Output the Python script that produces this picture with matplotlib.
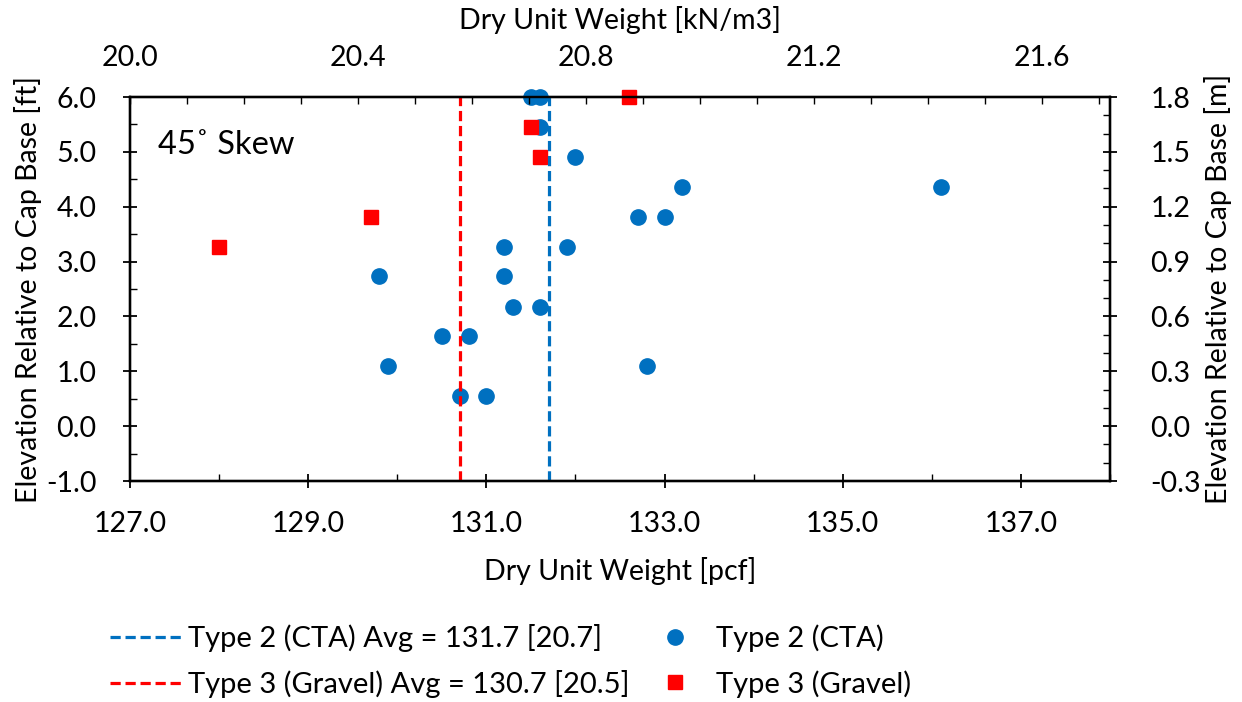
import matplotlib
matplotlib.use('Agg')
import matplotlib.pyplot as plt
from matplotlib.ticker import MultipleLocator, FormatStrFormatter

plt.rcParams['font.family'] = ['Lato', 'DejaVu Sans']

# Type 2 (CTA) samples: dry unit weight [pcf] vs elevation [ft]
cta_weight = [131.5, 131.6, 131.6, 132.0, 133.2, 136.1, 132.7, 133.0, 131.2, 131.9,
              129.8, 131.2, 131.3, 131.6, 130.5, 130.8, 129.9, 132.8, 130.7, 131.0]
cta_elev = [6.00, 6.00, 5.46, 4.91, 4.36, 4.36, 3.82, 3.82, 3.27, 3.27,
            2.73, 2.73, 2.18, 2.18, 1.64, 1.64, 1.09, 1.09, 0.55, 0.55]

# Type 3 (Gravel) samples
gravel_weight = [132.6, 131.5, 131.6, 129.7, 128.0]
gravel_elev = [6.00, 5.46, 4.91, 3.82, 3.27]

cta_avg = 131.7
gravel_avg = 130.7
cta_avg_label = 'Type 2 (CTA) Avg = 131.7 [20.7]'
gravel_avg_label = 'Type 3 (Gravel) Avg = 130.7 [20.5]'

blue = '#0070C0'
red = '#FF0000'
fs = 20.5

fig = plt.figure(figsize=(12.42, 7.02), dpi=100)
ax = fig.add_axes([0.1047, 0.3148, 0.789, 0.547])

l_cta = ax.axvline(cta_avg, color=blue, lw=2.3, dashes=(3.2, 1.5), zorder=4)
l_grav = ax.axvline(gravel_avg, color=red, lw=2.3, dashes=(3.2, 1.5), zorder=4)
p_cta, = ax.plot(cta_weight, cta_elev, 'o', color=blue, ms=11, clip_on=False, zorder=3)
p_grav, = ax.plot(gravel_weight, gravel_elev, 's', color=red, ms=10.5, clip_on=False, zorder=3.5)

ax.set_xlim(127, 138)
ax.set_ylim(-1, 6)
ax.xaxis.set_major_locator(MultipleLocator(2, offset=1))
ax.xaxis.set_minor_locator(MultipleLocator(1))
ax.yaxis.set_major_locator(MultipleLocator(1))
ax.yaxis.set_minor_locator(MultipleLocator(0.5))
ax.xaxis.set_major_formatter(FormatStrFormatter('%.1f'))
ax.yaxis.set_major_formatter(FormatStrFormatter('%.1f'))
ax.set_xlabel('Dry Unit Weight [pcf]', fontsize=fs, va='center')
ax.xaxis.set_label_coords(0.5, -0.234)
ax.set_ylabel('Elevation Relative to Cap Base [ft]', fontsize=fs, va='center')
ax.yaxis.set_label_coords(-0.104, 0.5)
ax.tick_params(which='major', direction='inout', length=10, width=1.3, labelsize=fs)
ax.tick_params(axis='x', which='major', pad=16.5)
ax.tick_params(axis='y', which='major', pad=19)
ax.tick_params(which='minor', direction='in', length=5, width=1.0)
ax.text(0.0286, 0.875, '45˚ Skew', transform=ax.transAxes, fontsize=23.5, va='center')

# right axis in metres
ax2 = ax.twinx()
ax2.set_ylim(-0.3, 1.8)
ax2.yaxis.set_major_locator(MultipleLocator(0.3))
ax2.yaxis.set_minor_locator(MultipleLocator(0.1))
ax2.yaxis.set_major_formatter(FormatStrFormatter('%.1f'))
ax2.set_ylabel('Elevation Relative to Cap Base [m]', fontsize=fs, va='center')
ax2.yaxis.set_label_coords(1.110, 0.5)
ax2.tick_params(which='major', direction='inout', length=10, width=1.3, labelsize=fs, pad=24)
ax2.tick_params(which='minor', direction='in', length=5, width=1.0)

# top axis in kN/m3
ax3 = ax.twiny()
ax3.set_xlim(20.0, 21.72)
ax3.xaxis.set_major_locator(MultipleLocator(0.4))
ax3.xaxis.set_minor_locator(MultipleLocator(0.1))
ax3.xaxis.set_major_formatter(FormatStrFormatter('%.1f'))
ax3.set_xlabel('Dry Unit Weight [kN/m3]', fontsize=fs, va='center')
ax3.xaxis.set_label_coords(0.5, 1.2005)
ax3.tick_params(which='both', direction='in', length=5, width=1.0, labelsize=fs, pad=19)

for a in (ax, ax2, ax3):
    for s in a.spines.values():
        s.set_linewidth(1.6)

leg_kw = dict(loc='center left', frameon=False, fontsize=21, handlelength=2.5,
              handletextpad=0.17, labelspacing=0.62, borderpad=0, borderaxespad=0)
leg1 = fig.legend([l_cta, l_grav], [cta_avg_label, gravel_avg_label],
                  bbox_to_anchor=(0.0886, 0.0584), **leg_kw)
leg2 = fig.legend([p_cta, p_grav], ['Type 2 (CTA)', 'Type 3 (Gravel)'],
                  bbox_to_anchor=(0.514, 0.0584), **leg_kw)

fig.savefig('out.png', dpi=100)
